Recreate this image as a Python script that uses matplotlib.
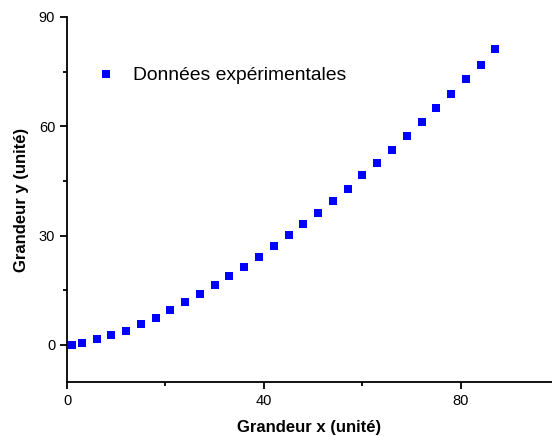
import matplotlib
matplotlib.use('Agg')
import matplotlib.pyplot as plt
from matplotlib.ticker import MultipleLocator

plt.rcParams['font.family'] = ['Liberation Sans', 'DejaVu Sans']

# Data
x_vals = [1, 3, 6, 9, 12, 15, 18, 21, 24, 27, 30, 33, 36, 39, 42,
          45, 48, 51, 54, 57, 60, 63, 66, 69, 72, 75, 78, 81, 84, 87]
y_vals = [0.0, 0.45, 1.55, 2.65, 3.9, 5.7, 7.5, 9.6, 11.8, 14.0, 16.4, 18.9, 21.5, 24.2, 27.2,
          30.1, 33.2, 36.3, 39.6, 42.9, 46.5, 50.0, 53.6, 57.4, 61.1, 65.0, 68.9, 72.9, 76.9, 81.1]
series_label = "Données expérimentales"

fig = plt.figure(figsize=(5.52, 4.37), dpi=100)
ax = fig.add_axes([67 / 552, 55 / 437, (552 - 67) / 552, 365 / 437])

ax.plot(x_vals, y_vals, 's', color='#0000ff', markersize=5.6, markeredgewidth=0,
        label=series_label)

ax.set_xlim(0, 98.5)
ax.set_ylim(-10.2, 90)
ax.xaxis.set_major_locator(MultipleLocator(40))
ax.xaxis.set_minor_locator(MultipleLocator(20))
ax.yaxis.set_major_locator(MultipleLocator(30))
ax.yaxis.set_minor_locator(MultipleLocator(15))

for side in ('top', 'right'):
    ax.spines[side].set_visible(False)
for side in ('left', 'bottom'):
    ax.spines[side].set_linewidth(1.3)
ax.tick_params(which='major', direction='out', length=5, width=1.3, labelsize=10.5,
               colors='black')
ax.tick_params(which='minor', direction='out', length=3, width=1.3)

ax.set_xlabel("Grandeur x (unité)", fontsize=12, fontweight='bold', labelpad=9)
ax.set_ylabel("Grandeur y (unité)", fontsize=12, fontweight='bold', labelpad=7)

ax.legend(loc='upper left', bbox_to_anchor=(0.004, 0.911), frameon=False,
          fontsize=13.9, handletextpad=0.44, markerscale=1.0)

fig.savefig('out.png', dpi=100)
